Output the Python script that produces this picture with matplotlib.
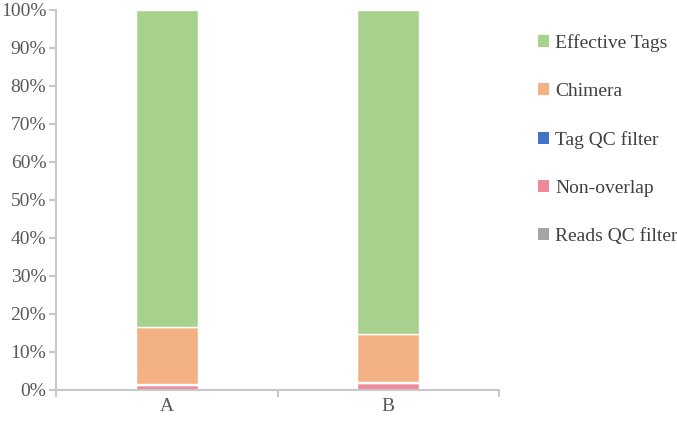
import matplotlib.pyplot as plt
from matplotlib.patches import Patch
from matplotlib.ticker import PercentFormatter

samples = ['A', 'B']
# stacked from bottom to top, percent
reads_qc = [0.1, 0.1]
non_overlap = [1.3, 1.7]
tag_qc = [0.3, 0.2]
chimera = [14.9, 12.7]
effective = [83.4, 85.3]

series = [
    ('Reads QC filter', reads_qc, '#a5a5a5'),
    ('Non-overlap', non_overlap, '#ef8a9b'),
    ('Tag QC filter', tag_qc, '#4472c4'),
    ('Chimera', chimera, '#f4b183'),
    ('Effective Tags', effective, '#a9d18e'),
]


def main():
    plt.rcParams['font.family'] = ['Liberation Serif', 'DejaVu Serif']
    fig = plt.figure(figsize=(6.77, 4.22), dpi=100)
    ax = fig.add_axes([56 / 677, 1 - 390 / 422, 443 / 677, 380 / 422])

    x = range(len(samples))
    bottom = [0.0] * len(samples)
    for name, vals, color in series:
        ax.bar(x, vals, width=0.28, bottom=bottom, color=color,
               edgecolor='white', linewidth=1.0, label=name)
        bottom = [b + v for b, v in zip(bottom, vals)]

    ax.set_xlim(-0.5, 1.5)
    ax.set_ylim(0, 100)
    ax.set_yticks(range(0, 101, 10))
    ax.yaxis.set_major_formatter(PercentFormatter(decimals=0))
    ax.set_xticks(list(x))
    ax.set_xticklabels(samples)
    ax.set_xticks([-0.5, 0.5, 1.5], minor=True)

    grey = '#c8c8c8'
    for side in ['top', 'right']:
        ax.spines[side].set_visible(False)
    for side in ['left', 'bottom']:
        ax.spines[side].set_color(grey)
        ax.spines[side].set_linewidth(1.5)
    ax.tick_params(axis='y', colors=grey, labelcolor='#595959',
                   labelsize=14, length=5, width=1.5, pad=2)
    ax.tick_params(axis='x', which='major', length=0, labelcolor='#595959',
                   labelsize=14, pad=6)
    ax.tick_params(axis='x', which='minor', length=5, width=1.5, colors=grey)

    handles = [Patch(facecolor=c, edgecolor='none', label=n)
               for n, _, c in reversed(series)]
    fig.legend(handles=handles, loc='upper left',
               bbox_to_anchor=(538 / 677, 1 - 34 / 422), frameon=False,
               fontsize=14, labelcolor='#404040', handlelength=0.57,
               handleheight=0.57, handletextpad=0.3, labelspacing=1.6,
               borderpad=0, borderaxespad=0)

    fig.savefig('out.png', dpi=100)


if __name__ == "__main__":
    main()
